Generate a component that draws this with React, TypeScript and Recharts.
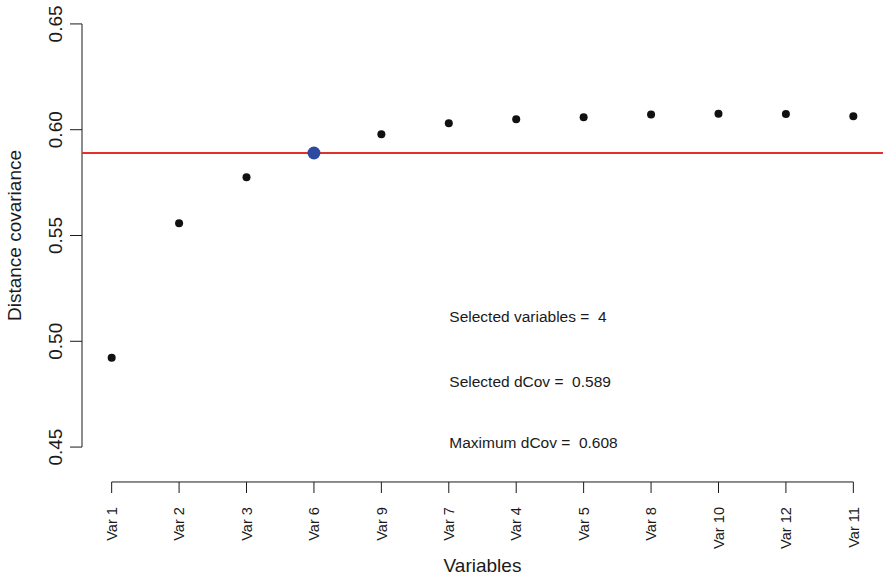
import { ReferenceLine, Scatter, ScatterChart, XAxis, YAxis } from "recharts";

const variables = ["Var 1", "Var 2", "Var 3", "Var 6", "Var 9", "Var 7", "Var 4", "Var 5", "Var 8", "Var 10", "Var 12", "Var 11"];
const dcov = [0.4922, 0.5558, 0.5775, 0.589, 0.5979, 0.603, 0.605, 0.6059, 0.6072, 0.6076, 0.6074, 0.6064];
const yTicks = [0.45, 0.5, 0.55, 0.6, 0.65];
const selectedCount = 4;
const selectedDcov = 0.589;
const maximumDcov = 0.608;

const FONT = "'Liberation Sans', Arial, Helvetica, sans-serif";
const INK = "#1a1a1a";
// y value where the detached x axis sits (below the plotting region, R style)
const X_AXIS_Y = 0.4335;

const points = variables.map((name, i) => ({ idx: i + 1, name, value: dcov[i] }));
const others = points.filter((p) => p.idx !== selectedCount);
const selected = points.filter((p) => p.idx === selectedCount);

function XTick(props: any) {
  const { x, y, payload } = props;
  const label = variables[payload.value - 1];
  return (
    <g>
      <line x1={x} x2={x} y1={y + 18} y2={y + 29} stroke={INK} strokeWidth={1} />
      <text
        x={x}
        y={y + 43}
        transform={`rotate(-90 ${x} ${y + 43})`}
        textAnchor="end"
        dy="0.36em"
        fontSize={14.6}
        fontFamily={FONT}
        fill={INK}
      >
        {label}
      </text>
    </g>
  );
}

function YTick(props: any) {
  const { x, y, payload } = props;
  return (
    <g>
      <line x1={x - 12} x2={x} y1={y} y2={y} stroke={INK} strokeWidth={1} />
      <text
        x={x - 27}
        y={y}
        transform={`rotate(-90 ${x - 27} ${y})`}
        textAnchor="middle"
        dy="0.36em"
        fontSize={19}
        fontFamily={FONT}
        fill={INK}
      >
        {payload.value.toFixed(2)}
      </text>
    </g>
  );
}

const dot = (r: number, fill: string) => (props: any) => (
  <circle cx={props.cx} cy={props.cy} r={r} fill={fill} />
);

export default function App() {
  return (
    <div style={{ position: "absolute", left: 0, top: 0, width: 885, height: 578, background: "#fff" }}>
      <ScatterChart width={885} height={578} margin={{ top: 7, right: 2, bottom: 14, left: 0 }}>
        <XAxis
          type="number"
          dataKey="idx"
          domain={[0.56, 12.44]}
          ticks={variables.map((_, i) => i + 1)}
          interval={0}
          allowDataOverflow
          axisLine={false}
          tickLine={false}
          tickSize={0}
          tickMargin={0}
          height={100}
          tick={<XTick />}
        />
        <YAxis
          type="number"
          dataKey="value"
          domain={[0.442, 0.658]}
          ticks={yTicks}
          interval={0}
          allowDataOverflow
          axisLine={false}
          tickLine={false}
          tickSize={0}
          tickMargin={0}
          width={82}
          tick={<YTick />}
        />
        <ReferenceLine
          segment={[{ x: 0.56, y: 0.45 }, { x: 0.56, y: 0.65 }]}
          stroke={INK}
          strokeWidth={1}
          ifOverflow="visible"
        />
        <ReferenceLine
          segment={[{ x: 1, y: X_AXIS_Y }, { x: variables.length, y: X_AXIS_Y }]}
          stroke={INK}
          strokeWidth={1}
          ifOverflow="visible"
        />
        <Scatter data={others} shape={dot(4, "#111111")} isAnimationActive={false} />
        <ReferenceLine y={selectedDcov} stroke="#e2312b" strokeWidth={2} />
        <Scatter data={selected} shape={dot(6.5, "#2e4aa0")} isAnimationActive={false} />
      </ScatterChart>
      <svg
        width={885}
        height={578}
        style={{ position: "absolute", left: 0, top: 0, pointerEvents: "none" }}
        fontFamily={FONT}
        fill={INK}
      >
        <text x={21} y={235.5} transform="rotate(-90 21 235.5)" textAnchor="middle" fontSize={19}>
          Distance covariance
        </text>
        <text x={482.5} y={571.5} textAnchor="middle" fontSize={19}>
          Variables
        </text>
        <text x={449.3} y={322} fontSize={15.5} xmlSpace="preserve">
          {`Selected variables =  ${selectedCount}`}
        </text>
        <text x={449.3} y={386.7} fontSize={15.5} xmlSpace="preserve">
          {`Selected dCov =  ${selectedDcov.toFixed(3)}`}
        </text>
        <text x={449.3} y={448.3} fontSize={15.5} xmlSpace="preserve">
          {`Maximum dCov =  ${maximumDcov.toFixed(3)}`}
        </text>
      </svg>
    </div>
  );
}
